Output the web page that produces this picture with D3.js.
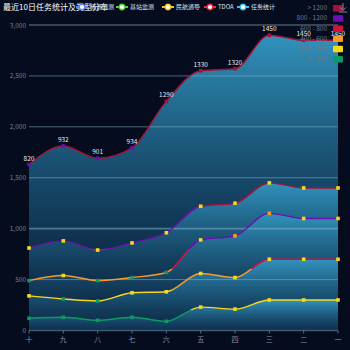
<!DOCTYPE html>
<html><head><meta charset="utf-8">
<script src="https://cdn.jsdelivr.net/npm/d3@7/dist/d3.min.js"></script>
<style>
html,body{margin:0;padding:0;background:#050c1e;}
svg{display:block;font-family:"Noto Sans CJK SC","Noto Sans",sans-serif;}
</style></head>
<body><svg id="c" width="350" height="350"></svg>
<script>
const title = "最近10日任务统计及类型分布";
const categories = ["十","九","八","七","六","五","四","三","二","一"];
const seriesNames = ["频谱监测","基站监测","民航通导","TDOA","任务统计"];
const s1 = [120,130,100,130,90,230,210,300,300,300];
const s2 = [220,180,190,240,290,330,310,400,400,400];
const s3 = [150,230,200,150,190,330,410,450,400,400];
const s4 = [320,340,300,340,390,330,320,300,300,300];
const s5 = [820,932,901,934,1290,1330,1320,1450,1450,1450];
const yTicks = [0,500,1000,1500,2000,2500,3000];
const legendColors = ["#5b86ff","#4fd23a","#f7c21c","#f0283c","#3cc0ef"];
const pieces = [
  {min:1200, max:Infinity, label:"> 1200", color:"#a3123a"},
  {min:800, max:1200, label:"800 - 1200", color:"#6c0fb0"},
  {min:600, max:800, label:"600 - 800", color:"#d3103c"},
  {min:400, max:600, label:"400 - 600", color:"#f79a2a"},
  {min:200, max:400, label:"200 - 400", color:"#f8d81c"},
  {min:0, max:200, label:"0 - 200", color:"#0a9a62"}
];
const allSeries = [s1,s2,s3,s4,s5];

const svg = d3.select("#c");
const W=350,H=350;
svg.append("rect").attr("width",W).attr("height",H).attr("fill","#050c1e");

const x = d3.scalePoint().domain(categories).range([29,338]);
const y = d3.scaleLinear().domain([0,3000]).range([330.5,25]);

const table = categories.map((c,i)=>{const o={cat:c}; seriesNames.forEach((n,k)=>o[n]=allSeries[k][i]); return o;});
const stacked = d3.stack().keys(seriesNames)(table);

const defs = svg.append("defs");
// area gradient per band
const ag = defs.append("linearGradient").attr("id","ag").attr("x1",0).attr("y1",0).attr("x2",0).attr("y2",1);
ag.append("stop").attr("offset",0).attr("stop-color","#3cb4e4").attr("stop-opacity",0.8);
ag.append("stop").attr("offset",1).attr("stop-color","#1a5a84").attr("stop-opacity",0.45);

// line gradient by value
const lg = defs.append("linearGradient").attr("id","lg").attr("gradientUnits","userSpaceOnUse")
  .attr("x1",0).attr("x2",0).attr("y1",y(0)).attr("y2",y(3000));
const ordered = pieces.slice().reverse();
ordered.forEach(p=>{
  const a = p.min/3000, b = Math.min(p.max,3000)/3000;
  lg.append("stop").attr("offset",a).attr("stop-color",p.color);
  lg.append("stop").attr("offset",b).attr("stop-color",p.color);
});
function pieceColor(v){ for(const p of pieces){ if(v>p.min && v<=p.max) return p.color; } return pieces[pieces.length-1].color; }

// bottom darker base
svg.append("rect").attr("x",x.range()[0]).attr("y",y(3000)).attr("width",x.range()[1]-x.range()[0]).attr("height",0).attr("fill","none");

const area = d3.area().x((d,i)=>x(categories[i])).y0(d=>y(d[0])).y1(d=>y(d[1])).curve(d3.curveMonotoneX);
const line = d3.line().x((d,i)=>x(categories[i])).y(d=>y(d[1])).curve(d3.curveMonotoneX);

stacked.forEach(layer=>{
  svg.append("path").attr("d",area(layer)).attr("fill","url(#ag)");
});

// grid
yTicks.forEach(t=>{
  if(t===0) return;
  svg.append("line").attr("x1",29).attr("x2",338).attr("y1",y(t)).attr("y2",y(t))
    .attr("stroke", t===3000 ? "#7d8796" : "#7fb0c8").attr("stroke-opacity", t===3000?0.9:0.55).attr("stroke-width", t===1000?1.8:1);
});
// x axis
svg.append("line").attr("x1",29).attr("x2",338).attr("y1",y(0)).attr("y2",y(0)).attr("stroke","#3a5a75").attr("stroke-width",1.5);
categories.forEach(c=>{
  svg.append("line").attr("x1",x(c)).attr("x2",x(c)).attr("y1",y(0)).attr("y2",y(0)+3).attr("stroke","#5a6a80");
  svg.append("text").attr("x",x(c)).attr("y",y(0)+11).attr("text-anchor","middle").attr("font-size",7).attr("fill","#8592a3").text(c);
});
yTicks.forEach(t=>{
  svg.append("text").attr("x",26).attr("y",y(t)+2.5).attr("text-anchor","end").attr("font-size",6.5).attr("fill","#7a8696").text(d3.format(",")(t));
});

// lines
stacked.forEach(layer=>{
  svg.append("path").attr("d",line(layer)).attr("fill","none").attr("stroke","url(#lg)").attr("stroke-width",1.4);
});
// markers
stacked.forEach((layer,k)=>{
  layer.forEach((d,i)=>{
    const v = allSeries[k][i];
    svg.append("rect").attr("x",x(categories[i])-1.8).attr("y",y(d[1])-1.8).attr("width",3.6).attr("height",3.6)
      .attr("fill",pieceColor(v));
  });
});
// labels on top series
stacked[4].forEach((d,i)=>{
  svg.append("text").attr("x",x(categories[i])).attr("y",y(d[1])-4).attr("text-anchor","middle")
    .attr("font-size",6.5).attr("fill","#e6ecf2").text(s5[i]);
});

// title
svg.append("text").attr("x",3).attr("y",10).attr("font-size",8).attr("fill","#ffffff").text(title);
// legend
const legX = [82,122,168,210,243];
seriesNames.forEach((n,k)=>{
  const g = svg.append("g").attr("transform",`translate(${legX[k]},7)`);
  g.append("line").attr("x1",-6).attr("x2",6).attr("y1",0).attr("y2",0).attr("stroke",legendColors[k]).attr("stroke-width",2);
  g.append("circle").attr("r",2.8).attr("fill","#ffffff").attr("stroke",legendColors[k]).attr("stroke-width",1.4);
  g.append("text").attr("x",8).attr("y",2.3).attr("font-size",6).attr("fill","#dfe4ea").text(n);
});
// visual map
pieces.forEach((p,i)=>{
  const yy = 8 + i*10.2;
  svg.append("rect").attr("x",333).attr("y",yy-3).attr("width",10).attr("height",6.5).attr("rx",1).attr("fill",p.color);
  svg.append("text").attr("x",327).attr("y",yy+2.2).attr("text-anchor","end").attr("font-size",6.5).attr("fill","#6f7a88").text(p.label);
});
// toolbox download icon
svg.append("path").attr("d","M343,3 L343,10 M340,7.5 L343,10.5 L346,7.5 M339,12 L347,12")
  .attr("fill","none").attr("stroke","#8a94a2").attr("stroke-width",0.9);
</script></body></html>
